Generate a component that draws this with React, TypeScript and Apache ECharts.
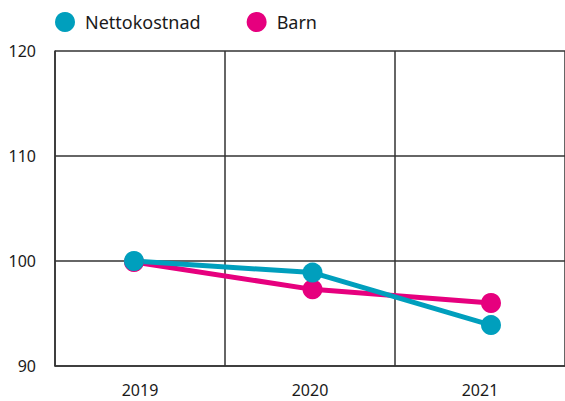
import React, { useEffect, useRef } from "react";
import * as echarts from "echarts";

const categories = ["2019", "2020", "2021"];
const nettokostnad = [100, 98.9, 93.9];
const barn = [99.9, 97.3, 96.0];
const yTicks = { min: 90, max: 120, interval: 10 };

const TEAL = "#009fbd";
const PINK = "#e6007e";
const AXIS = "#333333";
const FONT = "Noto Sans";

export default function App() {
  const ref = useRef<HTMLDivElement>(null);
  useEffect(() => {
    if (!ref.current) return;
    const chart = echarts.init(ref.current, undefined, { renderer: "svg" });
    chart.setOption({
      animation: false,
      textStyle: { fontFamily: FONT },
      legend: {
        data: ["Nettokostnad", "Barn"],
        left: 55,
        top: 12,
        padding: 0,
        icon: "circle",
        itemWidth: 20,
        itemHeight: 20,
        itemGap: 46,
        textStyle: {
          fontSize: 18,
          color: "#1a1a1a",
          fontFamily: FONT,
          padding: [0, 0, 0, 5],
        },
      },
      grid: [
        { left: 55, top: 51, bottom: 35, width: 513, containLabel: false },
        { left: 134, top: 51, bottom: 35, right: 74, containLabel: false },
      ],
      xAxis: [
        {
          type: "category",
          gridIndex: 0,
          data: categories,
          boundaryGap: true,
          axisLine: { lineStyle: { color: AXIS, width: 1.5 } },
          axisTick: { show: false },
          axisLabel: { color: "#1a1a1a", fontSize: 16, margin: 16, fontFamily: FONT },
          splitLine: { show: true, lineStyle: { color: AXIS, width: 1.5 } },
        },
        {
          type: "category",
          gridIndex: 1,
          data: categories,
          boundaryGap: false,
          show: false,
        },
      ],
      yAxis: [
        {
          type: "value",
          gridIndex: 0,
          min: yTicks.min,
          max: yTicks.max,
          interval: yTicks.interval,
          axisLine: { show: true, lineStyle: { color: AXIS, width: 1.5 } },
          axisTick: { show: false },
          axisLabel: {
            color: "#1a1a1a",
            fontSize: 16,
            margin: 19,
            fontFamily: FONT,
            padding: [5, 0, 0, 0],
          },
          splitLine: { show: true, lineStyle: { color: AXIS, width: 1.5 } },
        },
        {
          type: "value",
          gridIndex: 1,
          min: yTicks.min,
          max: yTicks.max,
          interval: yTicks.interval,
          show: false,
          splitLine: { show: false },
        },
      ],
      series: [
        {
          name: "Barn",
          type: "line",
          xAxisIndex: 1,
          yAxisIndex: 1,
          data: barn,
          symbol: "circle",
          symbolSize: 20,
          lineStyle: { color: PINK, width: 5 },
          itemStyle: { color: PINK },
        },
        {
          name: "Nettokostnad",
          type: "line",
          xAxisIndex: 1,
          yAxisIndex: 1,
          data: nettokostnad,
          symbol: "circle",
          symbolSize: 20,
          lineStyle: { color: TEAL, width: 5 },
          itemStyle: { color: TEAL },
        },
      ],
    });
    return () => chart.dispose();
  }, []);
  return (
    <div
      ref={ref}
      style={{ position: "fixed", left: 0, top: 0, width: 565, height: 401, background: "#fff" }}
    />
  );
}
